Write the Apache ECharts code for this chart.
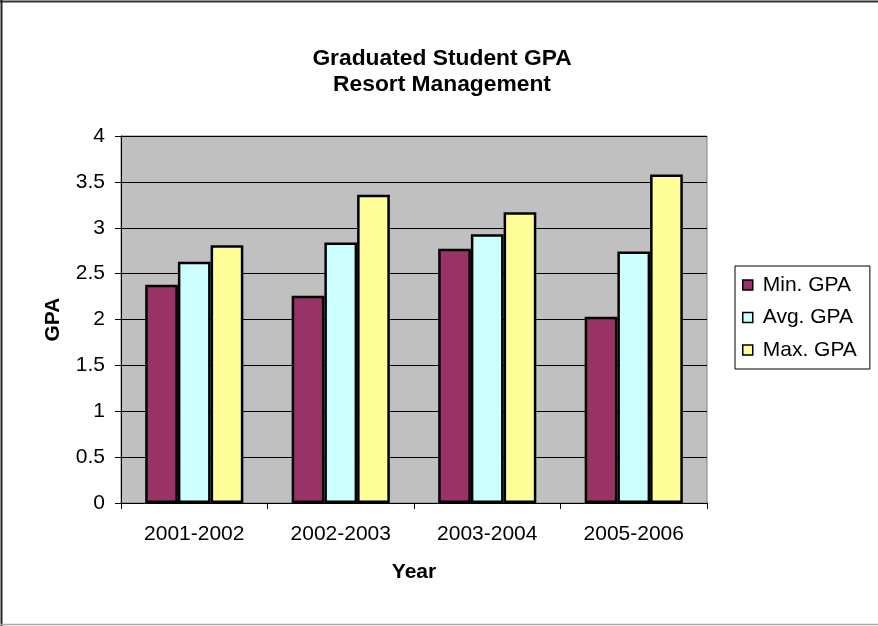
<!DOCTYPE html>
<html>
<head>
<meta charset="utf-8">
<script src="https://cdn.jsdelivr.net/npm/echarts@6/dist/echarts.min.js"></script>
<style>
  html, body { margin: 0; padding: 0; background: #fff; }
  #chart { width: 878px; height: 626px; }
</style>
</head>
<body>
<div id="chart"></div>
<script>
// School years on the category axis
const years = ['2001-2002', '2002-2003', '2003-2004', '2005-2006'];
// GPA values per year
const minGpa = [2.38, 2.26, 2.77, 2.03];
const avgGpa = [2.63, 2.84, 2.93, 2.74];
const maxGpa = [2.81, 3.36, 3.17, 3.58];
const seriesNames = ['Min. GPA', 'Avg. GPA', 'Max. GPA'];

const FONT = 'Liberation Sans, Arial, Helvetica, sans-serif';
const chart = echarts.init(document.getElementById('chart'), null, { renderer: 'canvas' });

function barSeries(name, data, color) {
  return {
    name: name,
    type: 'bar',
    data: data,
    barGap: '0%',
    barCategoryGap: '33%',
    itemStyle: { color: color, borderColor: '#000', borderWidth: 2.5 },
    emphasis: { disabled: true }
  };
}

chart.setOption({
  animation: false,
  backgroundColor: '#fff',
  textStyle: { fontFamily: FONT },
  title: {
    text: 'Graduated Student GPA\nResort Management',
    left: 437,
    textAlign: 'center',
    top: 41,
    textStyle: { fontFamily: FONT, fontSize: 22.8, fontWeight: 'bold', color: '#000', lineHeight: 26 }
  },
  legend: {
    orient: 'vertical',
    left: 735,
    top: 266,
    padding: [8, 13, 8, 7],
    itemGap: 10.5,
    itemWidth: 10,
    itemHeight: 10,
    icon: 'rect',
    borderColor: '#000',
    borderWidth: 1,
    backgroundColor: '#fff',
    itemStyle: { borderColor: '#000', borderWidth: 1.5 },
    textStyle: { fontFamily: FONT, fontSize: 21, color: '#000', lineHeight: 22, padding: [0, 0, 0, 5] },
    data: seriesNames
  },
  grid: {
    left: 121,
    top: 136,
    right: 171,
    bottom: 123,
    show: true,
    backgroundColor: '#C0C0C0',
    borderColor: '#808080',
    borderWidth: 1
  },
  xAxis: {
    type: 'category',
    data: years,
    boundaryGap: true,
    name: 'Year',
    nameLocation: 'middle',
    nameGap: 59,
    nameTextStyle: { fontFamily: FONT, fontSize: 21, fontWeight: 'bold', color: '#000' },
    axisLine: { lineStyle: { color: '#000', width: 1 } },
    axisTick: { show: true, length: 6, lineStyle: { color: '#000' } },
    axisLabel: { fontFamily: FONT, fontSize: 21, color: '#000', margin: 21 },
    splitLine: { show: false }
  },
  yAxis: {
    type: 'value',
    min: 0,
    max: 4,
    interval: 0.5,
    name: 'GPA',
    nameLocation: 'middle',
    nameRotate: 90,
    nameGap: 57,
    nameTextStyle: { fontFamily: FONT, fontSize: 21, fontWeight: 'bold', color: '#000' },
    axisLine: { show: true, lineStyle: { color: '#000', width: 1 } },
    axisTick: { show: true, length: 6, lineStyle: { color: '#000' } },
    axisLabel: { fontFamily: FONT, fontSize: 21, color: '#000', margin: 16 },
    splitLine: { show: true, lineStyle: { color: '#000', width: 1 } }
  },
  series: [
    barSeries(seriesNames[0], minGpa, '#993366'),
    barSeries(seriesNames[1], avgGpa, '#CCFFFF'),
    barSeries(seriesNames[2], maxGpa, '#FFFF99')
  ],
  graphic: [
    // outer chart frame
    { type: 'line', shape: { x1: 0, y1: 1.5, x2: 878, y2: 1.5 }, style: { stroke: '#333', lineWidth: 2 }, silent: true },
    { type: 'line', shape: { x1: 1.5, y1: 0, x2: 1.5, y2: 626 }, style: { stroke: '#222', lineWidth: 2 }, silent: true },
    { type: 'line', shape: { x1: 0, y1: 624.5, x2: 878, y2: 624.5 }, style: { stroke: '#A8A8A8', lineWidth: 1.5 }, silent: true }
  ]
});
</script>
</body>
</html>
